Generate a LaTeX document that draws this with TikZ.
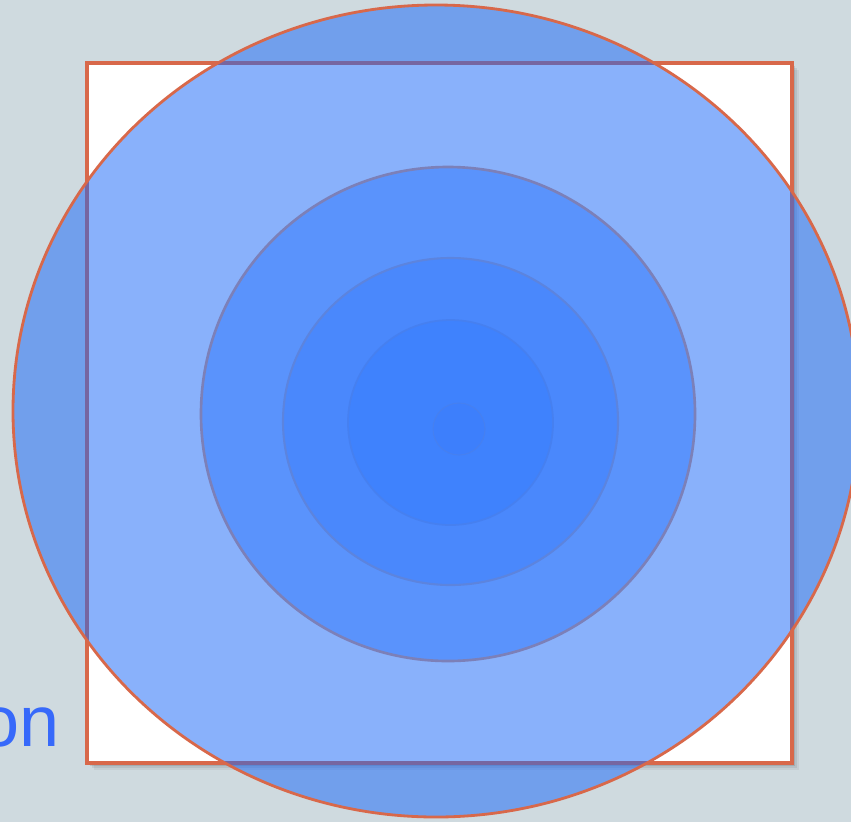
\documentclass[tikz,border=0pt]{standalone}
\usepackage{fontspec}
\setmainfont{Liberation Sans}
\definecolor{bgc}{RGB}{207,218,223}
\definecolor{rimc}{RGB}{216,104,74}
\definecolor{bigc}{RGB}{21,101,249}
\definecolor{ring2}{RGB}{90,147,252}
\definecolor{ring3}{RGB}{74,136,252}
\definecolor{ring4}{RGB}{63,130,253}
\definecolor{ring5}{RGB}{61,127,252}
\definecolor{edge2}{RGB}{124,128,184}
\definecolor{edge3}{RGB}{92,132,222}
\definecolor{edge4}{RGB}{70,128,240}
\definecolor{textc}{RGB}{55,105,250}
\tikzset{
  frame/.style={draw=rimc, line width=2.2pt, fill=white},
  bigdisk/.style={draw=rimc, line width=1.6pt, fill=bigc, fill opacity=0.5},
  ringa/.style={draw=edge2, line width=1.5pt, fill=ring2},
  ringb/.style={draw=edge3, line width=1.2pt, fill=ring3},
  ringc/.style={draw=edge4, line width=1pt, fill=ring4},
  ringd/.style={draw=edge4, line width=0.6pt, fill=ring5},
  label/.style={text=textc, inner sep=0pt, font=\fontsize{41}{45}\selectfont}
}
\begin{document}
\begin{tikzpicture}[x=0.02cm, y=-0.02cm]
\useasboundingbox (0,0) rectangle (851,822);
\clip (0,0) rectangle (851,822);
\fill[bgc] (0,0) rectangle (851,822);
% square shadow
\foreach \o/\a in {7/0.05,5/0.07,3/0.1}{
  \fill[black, opacity=\a] (87+\o,63+\o) rectangle (792+\o,763+\o);
}
\node[label, anchor=base east] (word) at (60,746) {on};
\draw[frame] (87,63) coordinate (sqa) rectangle (792,763) coordinate (sqb);
\draw[bigdisk] (436,411) coordinate (bigcenter) ellipse [x radius=423, y radius=406];
\draw[ringa] (448,414) coordinate (c2) circle [radius=247];
\draw[ringb] (450.5,421.5) coordinate (c3) ellipse [x radius=167.5, y radius=163.5];
\draw[ringc] (450.5,422.5) coordinate (c4) circle [radius=102.5];
\draw[ringd] (459,429) coordinate (c5) circle [radius=26];
\end{tikzpicture}
\end{document}
